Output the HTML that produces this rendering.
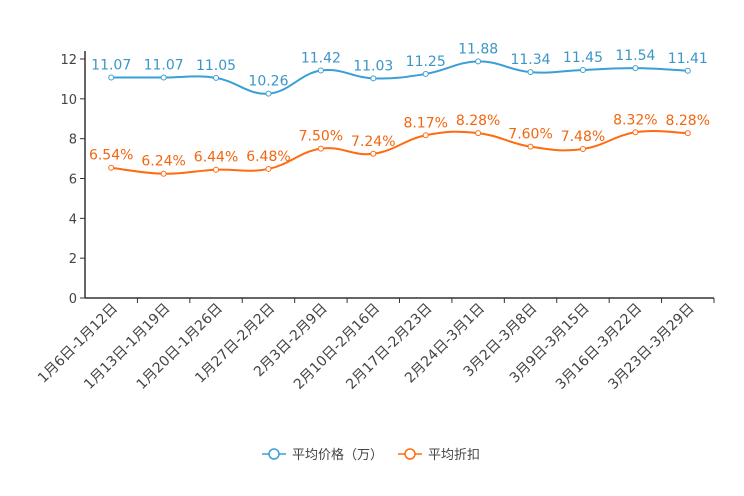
<!DOCTYPE html>
<html><head><meta charset="utf-8"><style>
body{margin:0;background:#fff;}
svg{display:block;font-family:"DejaVu Sans","Noto Sans CJK SC",sans-serif;}
</style></head><body>
<svg id="c" width="744" height="496"></svg>
<script>
const categories=["1月6日-1月12日","1月13日-1月19日","1月20日-1月26日","1月27日-2月2日","2月3日-2月9日","2月10日-2月16日","2月17日-2月23日","2月24日-3月1日","3月2日-3月8日","3月9日-3月15日","3月16日-3月22日","3月23日-3月29日"];
const priceValues=[11.07,11.07,11.05,10.26,11.42,11.03,11.25,11.88,11.34,11.45,11.54,11.41];
const discountValues=[6.54,6.24,6.44,6.48,7.50,7.24,8.17,8.28,7.60,7.48,8.32,8.28];
const yTicks=[0,2,4,6,8,10,12];
const NS="http://www.w3.org/2000/svg";
const svg=document.getElementById('c');
const L=85,R=714,T=59,B=298,yMax=12;
const bw=(R-L)/categories.length;
const xs=i=>L+bw*(i+0.5);
const ys=v=>B-(v/yMax)*(B-T);
function mk(tag,attrs,parent){const e=document.createElementNS(NS,tag);for(const k in attrs)e.setAttribute(k,attrs[k]);(parent||svg).appendChild(e);return e;}
const ya=mk('g',{});


mk('line',{x1:L,y1:T-8,x2:L,y2:B,stroke:'#333','stroke-width':1.5},ya);
yTicks.forEach(t=>{
  mk('line',{x1:L-5,y1:ys(t),x2:L,y2:ys(t),stroke:'#333'},ya);
  const tx=mk('text',{x:L-8,y:ys(t)+5,'text-anchor':'end','font-size':13,fill:'#444'},ya);
  tx.textContent=t;
  
  
});
const xa=mk('g',{});


mk('line',{x1:L,y1:B,x2:R,y2:B,stroke:'#333','stroke-width':1.5},xa);
categories.forEach((c,i)=>{
  const bx=L+bw*(i+1);
  mk('line',{x1:bx,y1:B,x2:bx,y2:B+5,stroke:'#333'},xa);
  const tx=mk('text',{x:0,y:0,'text-anchor':'end','font-size':14,fill:'#444',transform:`translate(${xs(i)+7},${B+11}) rotate(-45)`},xa);
  tx.textContent=c;
  
  
});
function smooth(pts){
  let d=`M${pts[0][0]},${pts[0][1]}`;
  for(let i=0;i<pts.length-1;i++){
    const p0=pts[i-1]||pts[i],p1=pts[i],p2=pts[i+1],p3=pts[i+2]||p2;
    const k=0.2;
    const c1=[p1[0]+(p2[0]-p0[0])*k,p1[1]+(p2[1]-p0[1])*k];
    const c2=[p2[0]-(p3[0]-p1[0])*k,p2[1]-(p3[1]-p1[1])*k];
    d+=`C${c1[0]},${c1[1]} ${c2[0]},${c2[1]} ${p2[0]},${p2[1]}`;
  }
  return d;
}
function series(vals,color,labelColor,fmt,name){
  const g=mk('g',{});
  
  
  const pts=vals.map((v,i)=>[xs(i),ys(v)]);
  mk('path',{d:smooth(pts),fill:'none',stroke:color,'stroke-width':2},g);
  pts.forEach((p,i)=>{
    const c=mk('circle',{cx:p[0],cy:p[1],r:2.5,fill:'#fff',stroke:color,'stroke-width':1},g);
    
    
    const t=mk('text',{x:p[0],y:p[1]-8,'text-anchor':'middle','font-size':14,fill:labelColor},g);
    t.textContent=fmt(vals[i]);
    
    
  });
}
series(priceValues,'#3a9fd6','#3a96c8',v=>v.toFixed(2),'price-series');
series(discountValues,'#ff6b0f','#f2660f',v=>v.toFixed(2)+'%','discount-series');
const lg=mk('g',{});


function legend(x,color,label,name){
  const g=mk('g',{},lg);
  
  
  mk('line',{x1:x,y1:454,x2:x+24,y2:454,stroke:color,'stroke-width':1.5},g);
  mk('circle',{cx:x+12,cy:454,r:5,fill:'#fff',stroke:color,'stroke-width':1.5},g);
  const t=mk('text',{x:x+30,y:459,'font-size':13,fill:'#444'},g);
  t.textContent=label;
}
legend(262,'#3a9fd6','平均价格（万）','legend-entry-price');
legend(398,'#ff6b0f','平均折扣','legend-entry-discount');
</script>
</body></html>
